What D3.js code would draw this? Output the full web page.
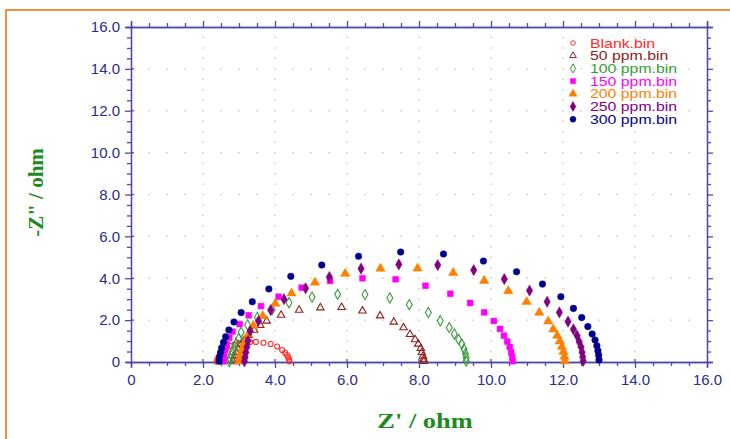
<!DOCTYPE html>
<html>
<head>
<meta charset="utf-8">
<script src="https://cdn.jsdelivr.net/npm/d3@7"></script>
<style>
  body { margin: 0; background: #fff; }
  svg { display: block; }
</style>
</head>
<body>
<div id="chart"></div>
<script>
// ----------------- DATA ----------------- //
var seriesNames = ['Blank.bin', '50 ppm.bin', '100 ppm.bin', '150 ppm.bin', '200 ppm.bin', '250 ppm.bin', '300 ppm.bin'];

// [Z', -Z''] pairs
var blank = [[2.38,0.02],[2.40,0.12],[2.43,0.24],[2.47,0.36],[2.52,0.48],[2.58,0.58],[2.66,0.68],[2.76,0.76],[2.88,0.84],[3.02,0.90],[3.16,0.93],[3.31,0.95],[3.47,0.96],[3.68,0.92],[3.88,0.86],[4.06,0.74],[4.20,0.57],[4.28,0.44],[4.33,0.33],[4.37,0.22],[4.39,0.12],[4.40,0.04]];
var ppm50 = [[2.84,0.02],[2.86,0.15],[2.89,0.30],[2.93,0.46],[2.98,0.63],[3.05,0.82],[3.14,1.03],[3.26,1.27],[3.42,1.52],[3.59,1.75],[3.77,1.96],[4.17,2.24],[4.67,2.48],[5.26,2.59],[5.85,2.61],[6.43,2.44],[6.92,2.21],[7.30,1.91],[7.57,1.64],[7.75,1.32],[7.89,1.07],[7.98,0.86],[8.05,0.65],[8.08,0.46],[8.11,0.28],[8.13,0.14],[8.13,0.03]];
var ppm100 = [[2.73,0.02],[2.75,0.16],[2.78,0.32],[2.82,0.50],[2.87,0.70],[2.92,0.90],[2.99,1.12],[3.06,1.42],[3.24,1.77],[3.51,2.13],[3.92,2.50],[4.39,2.83],[5.03,3.10],[5.74,3.23],[6.50,3.22],[7.19,3.06],[7.73,2.74],[8.26,2.36],[8.59,1.97],[8.84,1.64],[8.98,1.34],[9.10,1.08],[9.19,0.86],[9.25,0.62],[9.29,0.40],[9.31,0.20],[9.31,0.05]];
var ppm150 = [[2.57,0.03],[2.58,0.18],[2.59,0.36],[2.62,0.58],[2.66,0.85],[2.73,1.16],[2.82,1.45],[3.02,1.81],[3.27,2.23],[3.61,2.67],[4.10,3.12],[4.74,3.55],[5.53,3.87],[6.43,4.00],[7.35,3.95],[8.18,3.64],[8.87,3.26],[9.42,2.82],[9.81,2.37],[10.08,1.96],[10.25,1.58],[10.36,1.26],[10.45,0.98],[10.52,0.72],[10.56,0.46],[10.59,0.24],[10.60,0.04]];
var ppm200 = [[3.00,0.03],[3.02,0.20],[3.05,0.40],[3.09,0.62],[3.15,0.92],[3.26,1.32],[3.40,1.73],[3.66,2.20],[4.01,2.79],[4.46,3.28],[5.11,3.80],[5.95,4.22],[6.93,4.46],[7.96,4.47],[8.95,4.26],[9.81,3.88],[10.48,3.39],[10.99,2.87],[11.34,2.36],[11.59,1.94],[11.73,1.56],[11.84,1.26],[11.91,0.99],[11.97,0.73],[12.01,0.49],[12.04,0.26],[12.05,0.04]];
var ppm250 = [[3.15,0.03],[3.17,0.22],[3.19,0.45],[3.22,0.72],[3.25,1.00],[3.31,1.48],[3.54,1.96],[3.88,2.48],[4.25,3.00],[4.85,3.52],[5.51,4.06],[6.39,4.46],[7.44,4.66],[8.52,4.63],[9.52,4.39],[10.37,3.96],[11.07,3.41],[11.56,2.88],[11.90,2.37],[12.14,1.93],[12.29,1.56],[12.39,1.26],[12.45,0.97],[12.50,0.72],[12.53,0.46],[12.55,0.24],[12.56,0.05]];
var ppm300 = [[2.45,0.04],[2.46,0.24],[2.49,0.46],[2.52,0.68],[2.57,0.94],[2.63,1.21],[2.72,1.53],[2.86,1.91],[3.06,2.36],[3.37,2.88],[3.83,3.49],[4.44,4.09],[5.30,4.63],[6.32,5.05],[7.49,5.25],[8.68,5.16],[9.79,4.82],[10.71,4.31],[11.43,3.72],[11.94,3.12],[12.29,2.56],[12.52,2.12],[12.69,1.69],[12.81,1.34],[12.89,1.05],[12.94,0.78],[12.97,0.54],[12.99,0.33],[13.00,0.10]];

var majorTicks = [0, 2, 4, 6, 8, 10, 12, 14, 16];
var tickLabels = ['0', '2.0', '4.0', '6.0', '8.0', '10.0', '12.0', '14.0', '16.0'];

// ----------------- SETUP ----------------- //
var width = 730, height = 439;
var plotLeft = 131, plotRight = 707, plotTop = 27, plotBottom = 362;

var svg = d3.select('#chart').append('svg')
    .attr('width', width)
    .attr('height', height);

var x = d3.scaleLinear().domain([0, 16]).range([plotLeft, plotRight]);
var y = d3.scaleLinear().domain([0, 16]).range([plotBottom, plotTop]);

var axisColor = '#4b4ba6';
var labelColor = '#2c2c8a';

// orange frame
svg.append('path')
    .attr('d', 'M6,439 L6,10 L730,10')
    .attr('fill', 'none')
    .attr('stroke', '#f39040')
    .attr('stroke-width', 2);

// ----------------- GRID DOTS ----------------- //
var minorSteps = d3.range(0, 16.01, 0.5);
var inner = majorTicks.filter(d => d > 0 && d < 16);
var dots = [];
inner.forEach(function (gx) {
    minorSteps.forEach(function (gy) { if (gy > 0 && gy < 16) dots.push([gx, gy]); });
});
inner.forEach(function (gy) {
    minorSteps.forEach(function (gx) { if (gx > 0 && gx < 16 && gx % 2 !== 0) dots.push([gx, gy]); });
});
svg.append('g').selectAll('rect')
    .data(dots)
    .join('rect')
    .attr('x', d => x(d[0]) - 0.6)
    .attr('y', d => y(d[1]) - 0.6)
    .attr('width', 1.3)
    .attr('height', 1.3)
    .attr('fill', '#b8bf9a');

// ----------------- AXES ----------------- //
var minor = d3.range(0, 16.01, 0.5).filter(d => d % 2 !== 0);

var bottomAxis = d3.axisBottom(x).tickValues(majorTicks).tickFormat((d, i) => tickLabels[i]).tickSize(6).tickPadding(6);
var bottomMinor = d3.axisBottom(x).tickValues(minor).tickFormat('').tickSize(4);
var topAxis = d3.axisTop(x).tickValues(majorTicks).tickFormat('').tickSize(6);
var topMinor = d3.axisTop(x).tickValues(minor).tickFormat('').tickSize(4);
var leftAxis = d3.axisLeft(y).tickValues(majorTicks).tickFormat((d, i) => tickLabels[i]).tickSize(6).tickPadding(5);
var leftMinor = d3.axisLeft(y).tickValues(minor).tickFormat('').tickSize(4);
var rightAxis = d3.axisRight(y).tickValues(majorTicks).tickFormat('').tickSize(6);
var rightMinor = d3.axisRight(y).tickValues(minor).tickFormat('').tickSize(4);

function drawAxis(axis, tx, ty) {
    var g = svg.append('g').attr('transform', 'translate(' + tx + ',' + ty + ')').call(axis);
    g.selectAll('path, line').attr('stroke', axisColor).attr('stroke-width', 1.3);
    g.selectAll('text')
        .attr('fill', labelColor)
        .style('font-family', 'Arial, "Liberation Sans", sans-serif')
        .style('font-size', '15px');
    return g;
}
drawAxis(bottomAxis, 0, plotBottom);
drawAxis(bottomMinor, 0, plotBottom);
drawAxis(topAxis, 0, plotTop);
drawAxis(topMinor, 0, plotTop);
drawAxis(leftAxis, plotLeft, 0);
drawAxis(leftMinor, plotLeft, 0);
drawAxis(rightAxis, plotRight, 0);
drawAxis(rightMinor, plotRight, 0);

// major ticks cross slightly into the plot
svg.append('g').selectAll('line')
    .data(inner)
    .join('line')
    .attr('x1', d => x(d)).attr('x2', d => x(d))
    .attr('y1', plotBottom).attr('y2', plotBottom - 3)
    .attr('stroke', axisColor).attr('stroke-width', 1.3);
svg.append('g').selectAll('line')
    .data(inner)
    .join('line')
    .attr('y1', d => y(d)).attr('y2', d => y(d))
    .attr('x1', plotLeft).attr('x2', plotLeft + 3)
    .attr('stroke', axisColor).attr('stroke-width', 1.3);

// axis titles
svg.append('text')
    .attr('transform', 'translate(' + ((plotLeft + plotRight) / 2 + 6) + ',428) scale(1.2,1)')
    .attr('text-anchor', 'middle')
    .attr('fill', '#1d8a1d')
    .style('font-family', '"Liberation Serif", "Times New Roman", serif')
    .style('font-weight', 'bold')
    .style('font-size', '22px')
    .text("Z' / ohm");

svg.append('text')
    .attr('transform', 'translate(43,' + ((plotTop + plotBottom) / 2 - 2) + ') rotate(-90)')
    .attr('text-anchor', 'middle')
    .attr('fill', '#1d8a1d')
    .style('font-family', '"Liberation Serif", "Times New Roman", serif')
    .style('font-weight', 'bold')
    .style('font-size', '21px')
    .text('-Z" / ohm');

// ----------------- SERIES ----------------- //
var series = [
    { name: seriesNames[0], data: blank, color: '#ff2a2a', symbol: d3.symbolCircle, size: 20, fill: false },
    { name: seriesNames[1], data: ppm50, color: '#8e2020', symbol: d3.symbolTriangle, size: 24, fill: false },
    { name: seriesNames[2], data: ppm100, color: '#3a9a3a', symbol: d3.symbolDiamond, size: 30, fill: false },
    { name: seriesNames[3], data: ppm150, color: '#ff00ff', symbol: d3.symbolSquare, size: 34, fill: true },
    { name: seriesNames[4], data: ppm200, color: '#ff8000', symbol: d3.symbolTriangle, size: 38, fill: true },
    { name: seriesNames[5], data: ppm250, color: '#800080', symbol: d3.symbolDiamond, size: 36, fill: true },
    { name: seriesNames[6], data: ppm300, color: '#000090', symbol: d3.symbolCircle, size: 34, fill: true }
];

series.forEach(function (s) {
    svg.append('g').selectAll('path')
        .data(s.data)
        .join('path')
        .attr('transform', d => 'translate(' + x(d[0]) + ',' + y(d[1]) + ')')
        .attr('d', d3.symbol().type(s.symbol).size(s.size))
        .attr('fill', s.fill ? s.color : 'none')
        .attr('stroke', s.color)
        .attr('stroke-width', s.fill ? 0.5 : 1.1);
});

// ----------------- LEGEND ----------------- //
var legend = svg.append('g').attr('transform', 'translate(573,43)');
series.forEach(function (s, i) {
    var row = legend.append('g').attr('transform', 'translate(0,' + (i * 12.7) + ')');
    row.append('path')
        .attr('d', d3.symbol().type(s.symbol).size(s.size * 0.8))
        .attr('fill', s.fill ? s.color : 'none')
        .attr('stroke', s.color)
        .attr('stroke-width', s.fill ? 0.5 : 1);
    row.append('text')
        .attr('transform', 'translate(17,4.5) scale(1.32,1)')
        .attr('fill', s.color)
        .style('font-family', 'Arial, "Liberation Sans", sans-serif')
        .style('font-size', '12px')
        .text(s.name);
});
</script>
</body>
</html>
